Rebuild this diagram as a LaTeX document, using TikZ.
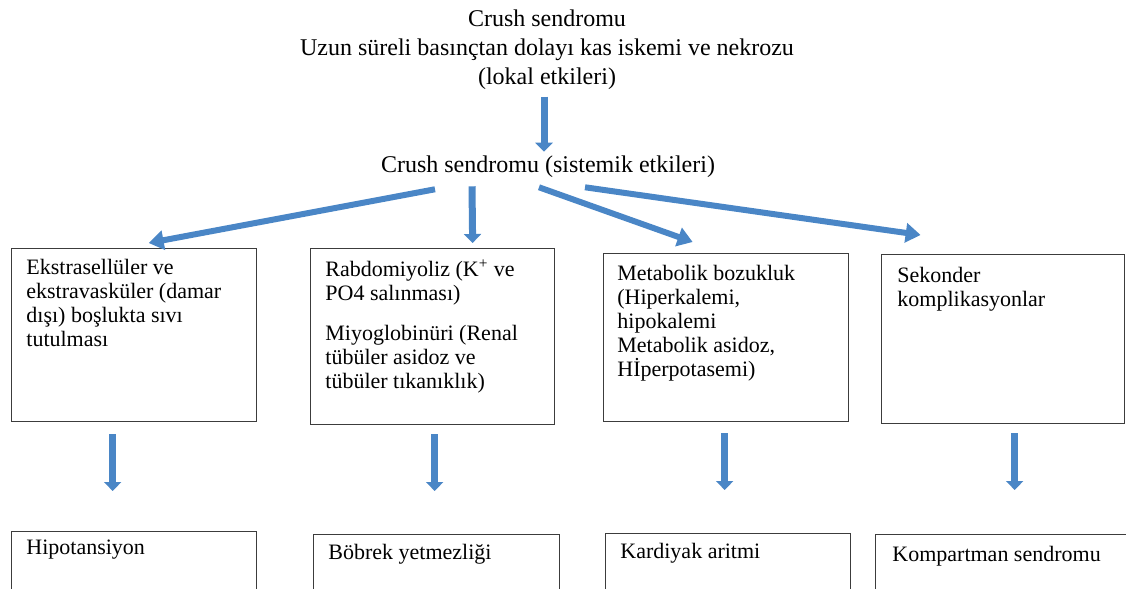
\documentclass[tikz,border=0pt]{standalone}
\usepackage{fontspec}
\setmainfont{Liberation Serif}
\usetikzlibrary{arrows.meta,calc}
\definecolor{flowblue}{RGB}{74,134,198}
\definecolor{boxgrey}{RGB}{60,60,60}
\begin{document}
\begin{tikzpicture}[x=0.5pt,y=-0.5pt,
    toptext/.style={font=\rmfamily\fontsize{12}{14.5}\selectfont, align=center, inner sep=0pt},
    box/.style={draw=boxgrey, line width=0.65pt, anchor=north west, inner sep=0pt},
    boxtext/.style={font=\rmfamily\fontsize{11}{12}\selectfont, align=left, anchor=north west, inner sep=0pt},
    flow/.style={draw=flowblue, line width=3pt, -{Triangle[width=9.5pt,length=7.5pt]}},
    flowdown/.style={draw=flowblue, line width=3.5pt, -{Triangle[width=8.5pt,length=4.5pt]}}]
    \path[use as bounding box, clip] (0,0) rectangle (1126,589);
    \node[toptext, anchor=north] (lokal) at (547,9)
        {Crush sendromu\\Uzun süreli basınçtan dolayı kas iskemi ve nekrozu\\(lokal etkileri)};
    \node[toptext] (sistemik) at (548,167) {Crush sendromu (sistemik etkileri)};
    % first row
    \node[box, minimum width=122.5pt, minimum height=86.5pt] (ekstra) at (11,248) {};
    \node[box, minimum width=122pt, minimum height=88pt] (rabdo) at (310,248) {};
    \node[box, minimum width=122.5pt, minimum height=84pt] (metab) at (603,253) {};
    \node[box, minimum width=121.5pt, minimum height=84.5pt] (sekon) at (881,254) {};
    \node[boxtext] (ekstrat) at ($(ekstra.north west)+(15,11)$)
        {Ekstrasellüler ve\\ekstravasküler (damar\\dışı) boşlukta sıvı\\tutulması};
    \node[boxtext] (rabdot) at ($(rabdo.north west)+(15,11)$)
        {Rabdomiyoliz (K\textsuperscript{+} ve\\PO4 salınması)\\[8pt]Miyoglobinüri (Renal\\tübüler asidoz ve\\tübüler tıkanıklık)};
    \node[boxtext] (metabt) at ($(metab.north west)+(14,12)$)
        {Metabolik bozukluk\\(Hiperkalemi,\\hipokalemi\\Metabolik asidoz,\\Hİperpotasemi)};
    \node[boxtext] (sekont) at ($(sekon.north west)+(16,13)$)
        {Sekonder\\komplikasyonlar};
    % second row
    \node[box, minimum width=122.5pt, minimum height=50pt] (hipo) at (11,531) {};
    \node[box, minimum width=123pt, minimum height=50pt] (bobrek) at (313,534) {};
    \node[box, minimum width=122.5pt, minimum height=50pt] (kardi) at (605,533) {};
    \node[box, minimum width=130pt, minimum height=50pt] (kompa) at (875,534) {};
    \node[boxtext] (hipot) at ($(hipo.north west)+(15,9)$) {Hipotansiyon};
    \node[boxtext] (bobrekt) at ($(bobrek.north west)+(15,10)$) {Böbrek yetmezliği};
    \node[boxtext] (kardit) at ($(kardi.north west)+(15,10)$) {Kardiyak aritmi};
    \node[boxtext] (kompat) at ($(kompa.north west)+(17,12)$) {Kompartman sendromu};
    % arrows
    \draw[flowdown] ($(lokal.south)+(-3,7)$) -- ($(sistemik.north)+(-4,-4)$);
    \draw[flow] ($(sistemik.south)+(-113,11)$) -- ($(ekstra.north)+(14.5,-5)$);
    \draw[flowdown] ($(sistemik.south)+(-76,8)$) -- ($(rabdo.north)+(40,-5)$);
    \draw[flow] ($(sistemik.south)+(-9,9)$) -- ($(metab.north)+(-33.5,-11)$);
    \draw[flow] ($(sistemik.south)+(37,9)$) -- ($(sekon.north)+(-82.5,-19)$);
    \draw[flowdown] ($(ekstra.south)+(-21.5,12)$) -- ($(hipo.north)+(-21.5,-40)$);
    \draw[flowdown] ($(rabdo.south)+(2,9)$) -- ($(bobrek.north)+(-2,-43)$);
    \draw[flowdown] ($(metab.south)+(-1.5,11)$) -- ($(kardi.north)+(-3.5,-43)$);
    \draw[flowdown] ($(sekon.south)+(11.5,9)$) -- ($(kompa.north)+(9,-44)$);
\end{tikzpicture}
\end{document}
